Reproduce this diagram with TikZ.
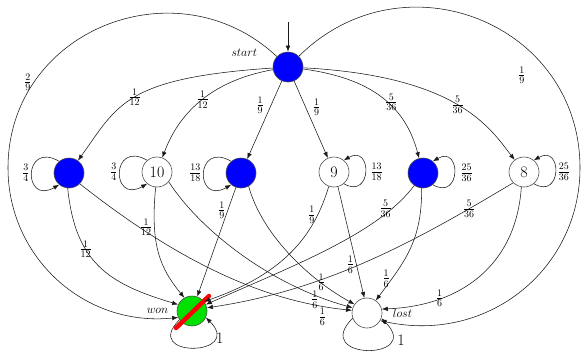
\documentclass[tikz,border=0pt]{standalone}
\usetikzlibrary{arrows.meta,calc}
\definecolor{nodeblue}{RGB}{0,0,255}
\definecolor{nodegreen}{RGB}{0,225,0}
\definecolor{slashred}{RGB}{255,0,0}
\begin{document}
\begin{tikzpicture}[x=1pt,y=-1pt,
  stt/.style={circle,draw=black!70,line width=0.6pt,minimum size=30pt,inner sep=0pt,font=\fontsize{16}{18}\selectfont},
  bluestt/.style={stt,fill=nodeblue},
  arr/.style={draw=black!90,line width=0.55pt,-{Latex[length=6pt,width=4.5pt]}},
  lab/.style={font=\fontsize{14}{16}\selectfont,inner sep=2pt},
  tag/.style={font=\fontsize{13}{15}\selectfont},
  one/.style={font=\fontsize{16}{18}\selectfont,inner sep=2pt}]
\useasboundingbox (0,0) rectangle (581,351);

% states
\node[bluestt,label={[tag,label distance=13pt]165:$start$}] (S) at (288,67) {};
\node[bluestt] (A) at (69,173) {};
\node[stt] (B) at (157,172) {10};
\node[bluestt] (C) at (241,173) {};
\node[stt] (D) at (334,172) {9};
\node[bluestt] (E) at (423,173) {};
\node[stt] (F) at (524,172) {8};
\node[stt,fill=nodegreen,label={[tag,label distance=5pt]180:$won$}] (W) at (192,311) {};
\node[stt,label={[tag,anchor=west,label distance=7pt]0:$lost$}] (L) at (367,313) {};
\draw[slashred,line width=4.5pt,line cap=round] ($(W)+(-16,17)$) -- ($(W)+(17,-15)$);

\coordinate (init) at (288,22);
\coordinate (wl) at (8,168);
\coordinate (lr) at (580,168);

% initial
\draw[arr] (init) -- (S);

% from start
\draw[arr] (S) .. controls (124,78) and (118,105) .. node[lab,pos=.5]{$\frac{1}{12}$} (A);
\draw[arr] (S) .. controls (215,80) and (180,110) .. node[lab,pos=.5]{$\frac{1}{12}$} (B);
\draw[arr] (S) -- node[lab,pos=.31,left=5pt]{$\frac{1}{9}$} (C);
\draw[arr] (S) -- node[lab,pos=.34,right=5pt]{$\frac{1}{9}$} (D);
\draw[arr] (S) .. controls (370,78) and (405,105) .. node[lab,pos=.6,yshift=4pt]{$\frac{5}{36}$} (E);
\draw[arr] (S) .. controls (458,76) and (490,128) .. node[lab,pos=.5]{$\frac{5}{36}$} (F);
\draw[arr] (S) .. controls (177,-37) and (8,30) .. node[lab,pos=.76,left]{$\frac{2}{9}$} (wl)
  .. controls (8,257) and (84,327) .. (W.205);
\draw[arr] (S) .. controls (403,-47) and (580,23) .. node[lab,pos=.7,xshift=-17pt,yshift=-15pt]{$\frac{1}{9}$} (lr)
  .. controls (580,269) and (488,344) .. (L.-30);

% self loops on the row
\draw[arr] (A.130) .. controls +(150:42pt) and +(210:42pt) .. node[lab,left]{$\frac{3}{4}$} (A.230);
\draw[arr] (B.130) .. controls +(150:42pt) and +(210:42pt) .. node[lab,left]{$\frac{3}{4}$} (B.230);
\draw[arr] (C.130) .. controls +(150:42pt) and +(210:42pt) .. node[lab,left]{$\frac{13}{18}$} (C.230);
\draw[arr] (D.-50) .. controls +(-30:33pt) and +(30:33pt) .. node[lab,right=3pt]{$\frac{13}{18}$} (D.50);
\draw[arr] (E.-50) .. controls +(-30:33pt) and +(30:33pt) .. node[lab,right=4pt]{$\frac{25}{36}$} (E.50);
\draw[arr] (F.-50) .. controls +(-30:33pt) and +(30:33pt) .. node[lab,right]{$\frac{25}{36}$} (F.50);

% row to won
\draw[arr] (A.-95) .. controls (75.5,263) and (108.4,283.7) .. node[lab,pos=.35]{$\frac{1}{12}$} (W.155);
\draw[arr] (B.-95) .. controls (150,245) and (160,268) .. node[lab,pos=.27,left]{$\frac{1}{12}$} (W.120);
\draw[arr] (C) -- node[lab,pos=.21,left=0pt]{$\frac{1}{9}$} (W.70);
\draw[arr] (D.-110) .. controls (313.9,236.1) and (283.8,273.8) .. node[lab,pos=.2,left]{$\frac{1}{9}$} (W.38);
\draw[arr] (E.-125) .. controls (378.4,233.3) and (295.6,264.7) .. node[lab,pos=.17,left=-2pt]{$\frac{5}{36}$} (W.25);
\draw[arr] (F.-135) .. controls (413.4,242.6) and (326.7,289.9) .. node[lab,pos=.15]{$\frac{5}{36}$} (W.12);

% row to lost
\draw[arr] (A.-45) .. controls (165,251) and (252,300) .. node[lab,pos=.9,below]{$\frac{1}{6}$} (L.170);
\draw[arr] (B.-40) .. controls (200,230) and (270,285) .. node[lab,pos=.8,xshift=10pt,yshift=-9pt]{$\frac{1}{6}$} (L.160);
\draw[arr] (C.-60) .. controls (262,235) and (310,280) .. node[lab,pos=.75]{$\frac{1}{6}$} (L.145);
\draw[arr] (D.-75) -- node[lab,pos=.7,left=0pt]{$\frac{1}{6}$} (L.100);
\draw[arr] (E.-95) .. controls (422,240) and (405.6,260.7) .. node[lab,pos=.8,left=0pt]{$\frac{1}{6}$} (L.55);
\draw[arr] (F.-100) .. controls (516,266) and (460,306) .. node[lab,pos=.73]{$\frac{1}{6}$} (L.15);

% absorbing loops
\draw[arr] (W.215) .. controls +(225:55pt) and +(315:55pt) .. node[one,pos=.78,right]{1} (W.335);
\draw[arr] (L.200) .. controls +(225:60pt) and +(315:60pt) .. node[one,pos=.78,right=5pt]{1} (L.340);
\end{tikzpicture}
\end{document}
